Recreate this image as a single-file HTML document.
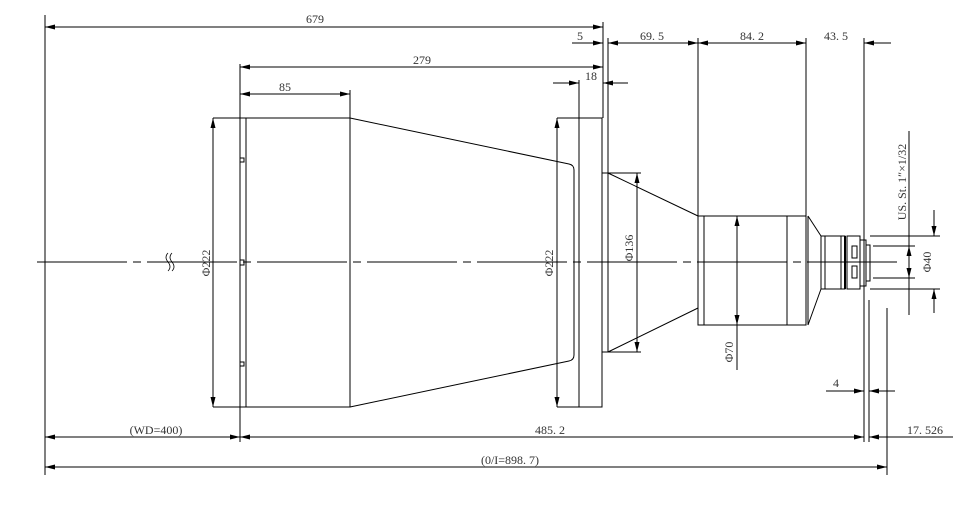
<!DOCTYPE html>
<html><head><meta charset="utf-8"><style>
html,body{margin:0;padding:0;background:#fff}
svg{display:block}
text{font-family:"Liberation Serif",serif;font-size:12px;fill:#333}
</style></head><body>
<svg width="963" height="513" viewBox="0 0 963 513" xmlns="http://www.w3.org/2000/svg">
<defs>
<marker id="a" viewBox="0 0 12 6" refX="12" refY="3" markerWidth="12" markerHeight="5" orient="auto-start-reverse" markerUnits="userSpaceOnUse"><path d="M0,0 L12,3 L0,6z" fill="#000"/></marker>
</defs>
<g stroke="#000" stroke-width="1" fill="none">
<line x1="37" y1="262" x2="900" y2="262" stroke-dasharray="90,6,8,6"/>
<line x1="45" y1="15" x2="45" y2="475"/>
<line x1="240" y1="64" x2="240" y2="442"/>
<line x1="603" y1="22" x2="603" y2="118"/>
<line x1="608" y1="38" x2="608" y2="173"/>
<line x1="698" y1="38" x2="698" y2="216"/>
<line x1="806" y1="38" x2="806" y2="216"/>
<line x1="864" y1="38" x2="864" y2="442"/>
<line x1="350" y1="90" x2="350" y2="118"/>
<line x1="579" y1="80" x2="579" y2="118"/>
<line x1="869" y1="300" x2="869" y2="442"/>
<line x1="887" y1="308" x2="887" y2="475"/>
<line x1="45" y1="27" x2="603" y2="27" marker-start="url(#a)" marker-end="url(#a)"/>
<line x1="240" y1="67" x2="603" y2="67" marker-start="url(#a)" marker-end="url(#a)"/>
<line x1="240" y1="94" x2="350" y2="94" marker-start="url(#a)" marker-end="url(#a)"/>
<line x1="572" y1="43" x2="603" y2="43" marker-end="url(#a)"/>
<line x1="608" y1="43" x2="698" y2="43" marker-start="url(#a)" marker-end="url(#a)"/>
<line x1="698" y1="43" x2="806" y2="43" marker-start="url(#a)" marker-end="url(#a)"/>
<line x1="864" y1="43" x2="891" y2="43" marker-start="url(#a)"/>
<line x1="553" y1="83" x2="579" y2="83" marker-end="url(#a)"/>
<line x1="603" y1="83" x2="628" y2="83" marker-start="url(#a)"/>
<rect x="240" y="118" width="6" height="289"/>
<rect x="246" y="118" width="104" height="289"/>
<rect x="240" y="158" width="4" height="4"/><rect x="240" y="260" width="4" height="5"/><rect x="240" y="362" width="4" height="4"/>
<line x1="213" y1="118" x2="240" y2="118"/><line x1="213" y1="407" x2="240" y2="407"/>
<path d="M350,118 L569,164 Q574,165 574,170 L574,355 Q574,360 569,361 L350,407"/>
<rect x="579" y="118" width="23" height="289"/>
<line x1="557" y1="118" x2="579" y2="118"/><line x1="557" y1="407" x2="579" y2="407"/>
<rect x="602" y="173" width="6" height="179"/>
<path d="M608,173 L698,216 M608,352 L698,308"/>
<line x1="608" y1="173" x2="641" y2="173"/><line x1="608" y1="352" x2="641" y2="352"/>
<rect x="698" y="216" width="108" height="109"/>
<line x1="704" y1="216" x2="704" y2="325"/>
<line x1="787" y1="216" x2="787" y2="325"/>
<line x1="808" y1="216" x2="808" y2="325"/>
<path d="M808,216 L821,236 M808,325 L821,289"/>
<rect x="821" y="236" width="24" height="53"/>
<rect x="825" y="236" width="16" height="53"/>
<line x1="845" y1="236" x2="845" y2="289" stroke-width="2"/>
<rect x="847" y="236" width="13" height="53"/>
<rect x="860" y="240" width="6" height="46"/>
<rect x="866" y="245" width="4" height="36"/>
<rect x="852" y="246" width="5" height="12"/><rect x="852" y="266" width="5" height="12"/>
<line x1="870" y1="236" x2="940" y2="236"/><line x1="870" y1="289" x2="940" y2="289"/>
<line x1="873" y1="246" x2="915" y2="246"/><line x1="873" y1="278" x2="915" y2="278"/>
<line x1="213" y1="118" x2="213" y2="407" marker-start="url(#a)" marker-end="url(#a)"/>
<line x1="557" y1="118" x2="557" y2="407" marker-start="url(#a)" marker-end="url(#a)"/>
<line x1="637" y1="173" x2="637" y2="352" marker-start="url(#a)" marker-end="url(#a)"/>
<line x1="737" y1="216" x2="737" y2="370" />
<line x1="737" y1="216" x2="737" y2="325" marker-start="url(#a)" marker-end="url(#a)"/>
<line x1="909" y1="246" x2="909" y2="278" marker-start="url(#a)" marker-end="url(#a)"/>
<line x1="909" y1="131" x2="909" y2="315"/>
<line x1="934" y1="210" x2="934" y2="236" marker-end="url(#a)"/>
<line x1="934" y1="289" x2="934" y2="313" marker-start="url(#a)"/>
<line x1="826" y1="391" x2="864" y2="391" marker-end="url(#a)"/>
<line x1="869" y1="391" x2="895" y2="391" marker-start="url(#a)"/>
<line x1="45" y1="437" x2="240" y2="437" marker-start="url(#a)" marker-end="url(#a)"/>
<line x1="240" y1="437" x2="864" y2="437" marker-start="url(#a)" marker-end="url(#a)"/>
<line x1="869" y1="437" x2="953" y2="437"/>
<line x1="869" y1="437" x2="887" y2="437" marker-end="url(#a)" transform="rotate(180 878 437)"/>
<line x1="45" y1="467" x2="887" y2="467" marker-start="url(#a)" marker-end="url(#a)"/>
<path d="M168,253 q-4,4 0,9 q4,5 0,9 M172,253 q-4,4 0,9 q4,5 0,9" stroke-width="0.8"/>
</g>
<g>
<text x="315" y="23" text-anchor="middle">679</text>
<text x="422" y="64" text-anchor="middle">279</text>
<text x="285" y="91" text-anchor="middle">85</text>
<text x="580" y="40" text-anchor="middle">5</text>
<text x="652" y="40" text-anchor="middle">69. 5</text>
<text x="752" y="40" text-anchor="middle">84. 2</text>
<text x="836" y="40" text-anchor="middle">43. 5</text>
<text x="591" y="80" text-anchor="middle">18</text>
<text x="156" y="434" text-anchor="middle">(WD=400)</text>
<text x="550" y="434" text-anchor="middle">485. 2</text>
<text x="925" y="434" text-anchor="middle">17. 526</text>
<text x="510" y="464" text-anchor="middle">(0/I=898. 7)</text>
<text x="836" y="387" text-anchor="middle">4</text>
<text transform="translate(210,263) rotate(-90)" text-anchor="middle">Φ222</text>
<text transform="translate(553,263) rotate(-90)" text-anchor="middle">Φ222</text>
<text transform="translate(633,248) rotate(-90)" text-anchor="middle">Φ136</text>
<text transform="translate(733,352) rotate(-90)" text-anchor="middle">Φ70</text>
<text transform="translate(931,262) rotate(-90)" text-anchor="middle">Φ40</text>
<text transform="translate(906,182) rotate(-90)" text-anchor="middle">US. St. 1″×1/32</text>
</g>
</svg>
</body></html>
